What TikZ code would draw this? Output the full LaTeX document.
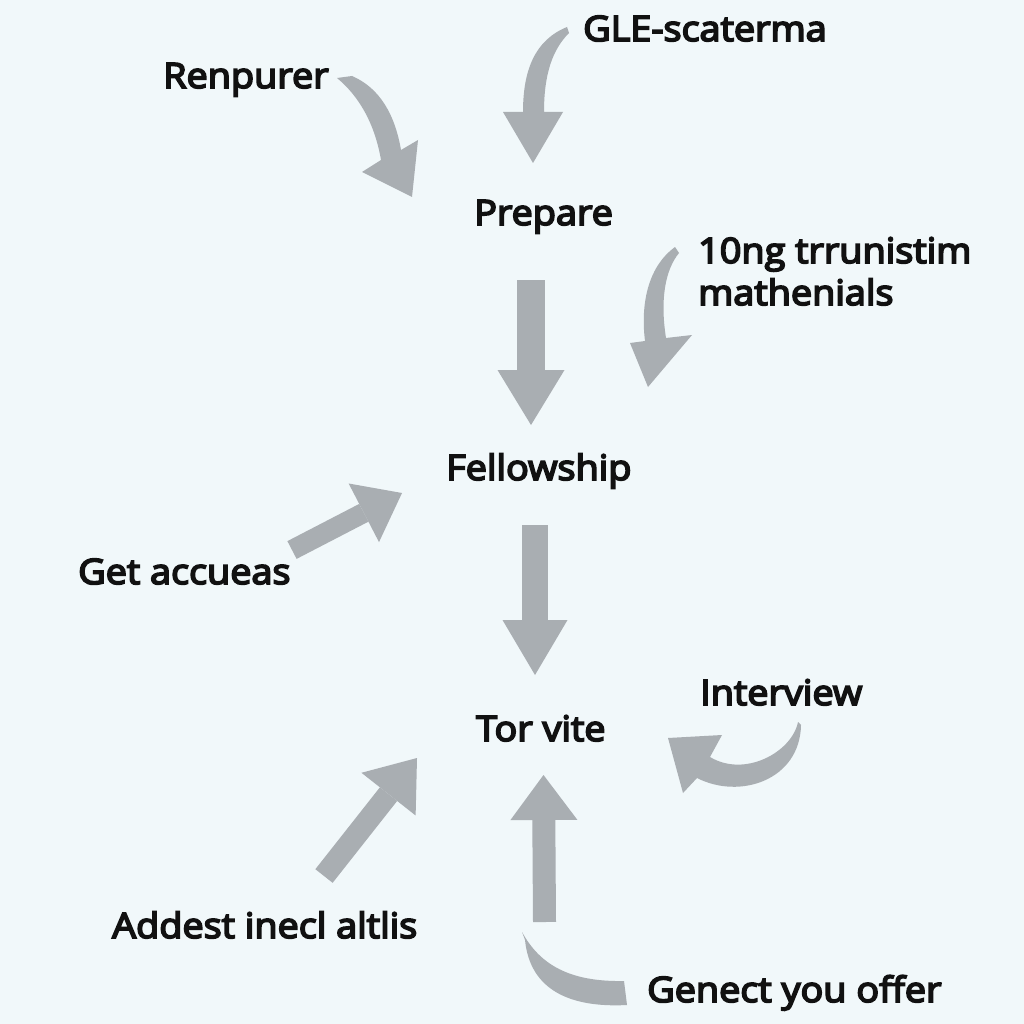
\documentclass[tikz,border=0pt]{standalone}
\usepackage{fontspec}
\setmainfont{Open Sans}
\newfontfamily\lblfont{Open Sans}[FakeBold=5,FakeStretch=1.08]
\usetikzlibrary{arrows.meta}
\definecolor{bgcol}{HTML}{F1F8FA}
\definecolor{arrowgray}{HTML}{A9AEB2}
\definecolor{txt}{HTML}{111111}
\begin{document}
\begin{tikzpicture}[x=1pt,y=-1pt,
  lbl/.style={anchor=base west,inner sep=0pt,text=txt,font=\lblfont\fontsize{35}{42}\selectfont},
  blk/.style={draw=arrowgray,line width=#1},
  curvearrow/.style={fill=arrowgray}]
\fill[bgcol] (0,0) rectangle (1024,1024);
\useasboundingbox (0,0) rectangle (1024,1024);
% labels
\node[lbl] (renpurer) at (163,88) {Renpurer};
\node[lbl] (gle) at (583,41) {GLE-scaterma};
\node[lbl] (prepare) at (474,225) {Prepare};
\node[lbl] (tenng) at (698,263) {10ng trrunistim};
\node[lbl] (mathen) at (698,305) {mathenials};
\node[lbl] (fellow) at (446,480) {Fellowship};
\node[lbl] (getacc) at (78,584) {Get accueas};
\node[lbl] (interview) at (700,705) {Interview};
\node[lbl] (torvite) at (476,741) {Tor vite};
\node[lbl] (addest) at (112,938) {Addest inecl altlis};
\node[lbl] (genect) at (647,1002) {Genect you offer};
% straight block arrows
\coordinate (aS) at (531,280); \coordinate (aE) at (531,425);
\coordinate (bS) at (535,525); \coordinate (bE) at (535,675);
\coordinate (gS) at (544.5,922); \coordinate (gE) at (543.5,775);
\coordinate (dS) at (292,550); \coordinate (dE) at (402,493);
\coordinate (fS) at (324,876); \coordinate (fE) at (417,758);
\draw[blk=28pt,-{Triangle[width=67pt,length=55pt,line width=0pt]}] (aS) -- (aE);
\draw[blk=26pt,-{Triangle[width=65pt,length=55pt,line width=0pt]}] (bS) -- (bE);
\draw[blk=23pt,-{Triangle[width=67pt,length=45pt,line width=0pt]}] (gS) -- (gE);
\draw[blk=20pt,-{Triangle[width=66pt,length=43pt,line width=0pt]}] (dS) -- (dE);
\draw[blk=22pt,-{Triangle[width=69pt,length=46pt,line width=0pt]}] (fS) -- (fE);
% curved block arrows
\fill[curvearrow] (337,78) -- (352,76) .. controls (380,88) and (395,115) .. (401,150)
  -- (418,140) -- (412,197) -- (362,172) -- (381,160)
  .. controls (375,125) and (360,97) .. (337,78) -- cycle;
\fill[curvearrow] (567,27) .. controls (535,40) and (523,70) .. (523,112)
  -- (503,112) -- (533,163) -- (563,112) -- (544,112)
  .. controls (544,75) and (552,50) .. (569,33) -- cycle;
\fill[curvearrow] (675,247) .. controls (650,265) and (640,300) .. (645,341)
  -- (630,343) -- (648,387) -- (692,335) -- (666,338)
  .. controls (660,300) and (665,270) .. (679,253) -- cycle;
\fill[curvearrow] (798,722) .. controls (792,752) and (745,778) .. (710,757)
  -- (722,735) -- (668,738) -- (683,793) -- (697,778)
  .. controls (740,800) and (800,780) .. (801,725) -- cycle;
\fill[curvearrow] (522,932) .. controls (540,965) and (570,982) .. (624,981)
  -- (627,1005) .. controls (570,1008) and (530,990) .. (525,940) -- cycle;
\end{tikzpicture}
\end{document}
